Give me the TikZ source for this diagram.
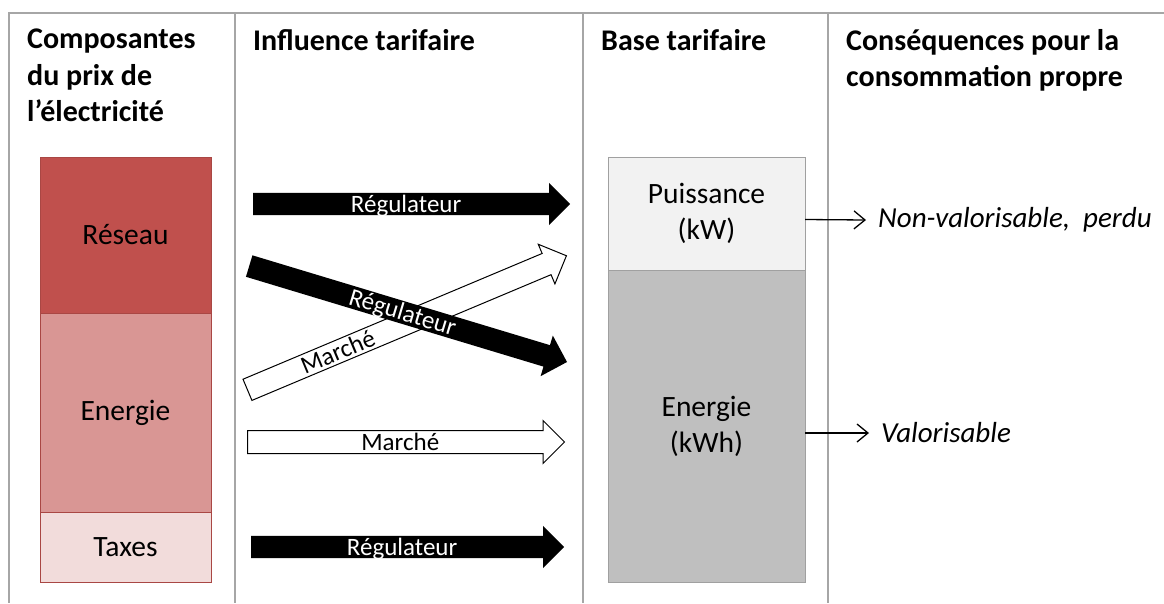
\documentclass[tikz,border=0pt]{standalone}
\usepackage{fontspec}
\setmainfont{Carlito}
\usetikzlibrary{shapes.arrows, arrows.meta, positioning}
\definecolor{framegray}{HTML}{A6A6A6}
\definecolor{reseaured}{HTML}{C0504D}
\definecolor{energiered}{HTML}{D99694}
\definecolor{taxesred}{HTML}{F2DCDB}
\definecolor{redline}{HTML}{A94744}
\definecolor{puisgray}{HTML}{F2F2F2}
\definecolor{energray}{HTML}{BFBFBF}
\definecolor{boxgray}{HTML}{A0A0A0}
\tikzset{
  frame/.style={draw=framegray, line width=1.3pt},
  header/.style={anchor=north west, inner sep=0pt, align=left,
    font=\fontsize{30}{36.3}\selectfont\bfseries},
  part/.style={draw=redline, line width=1pt, minimum width=171pt, inner sep=0pt,
    outer sep=0pt, font=\fontsize{29.5}{35}\selectfont},
  base/.style={draw=boxgray, line width=1pt, minimum width=197pt, inner sep=0pt,
    outer sep=0pt, align=center, font=\fontsize{29.5}{36}\selectfont},
  blockarrow/.style={single arrow, single arrow head extend=10pt,
    single arrow tip angle=90, single arrow head indent=0pt,
    inner xsep=0pt, inner ysep=0pt, text height=19pt, text depth=3pt,
    anchor=tail, font=\fontsize{25}{30}\selectfont},
  regul/.style={blockarrow, fill=black, text=white},
  marche/.style={blockarrow, draw=black, fill=white, line width=1pt},
  conseq/.style={anchor=west, inner sep=0pt, font=\fontsize{29}{35}\selectfont\itshape},
  conn/.style={line width=1.3pt, -{Straight Barb[length=11pt, width=18pt, line width=1.3pt]}}
}

\begin{document}
\begin{tikzpicture}[x=1pt, y=-1pt]
  \useasboundingbox (0,0) rectangle (1164,603);
  % cadre
  \draw[frame] (8,13) -- (1164,13);
  \foreach \xcol in {9, 235, 583, 828}
    \draw[frame] (\xcol,13) -- (\xcol,603);

  % titres
  \node[header] (h1) at (27,29) {Composantes\\du prix de\\l’électricité};
  \node[header] (h2) at (253,29) {Influence tarifaire};
  \node[header] (h3) at (601,29) {Base tarifaire};
  \node[header] (h4) at (846,29) {Conséquences pour la\\consommation propre};

  % composantes
  \node[part, fill=reseaured, minimum height=156pt, anchor=north west] (reseau) at (40,157) {Réseau};
  \node[part, fill=energiered, minimum height=199pt, below=0pt of reseau] (energie) {Energie};
  \node[part, fill=taxesred, minimum height=70pt, below=0pt of energie] (taxes) {Taxes};

  % base tarifaire
  \node[base, fill=puisgray, minimum height=113pt, anchor=north west] (puis) at (608,157) {Puissance\\(kW)};
  \node[base, fill=energray, minimum height=312pt, below=0pt of puis] (kwh) {Energie\\(kWh)};

  % influences
  \node[regul, minimum height=317pt] (r1) at (253,204) {Régulateur};
  \node[marche, minimum height=346pt, rotate=22.8] (m1) at (247,390) {};
  \node[regul, minimum height=332pt, rotate=-16.8] (r2) at (249,266) {Régulateur};
  \node[marche, minimum height=317pt] (m2) at (247,442) {Marché};
  \node[regul, minimum height=313pt] (r3) at (251,547) {Régulateur};
  \node[rotate=22.8, inner sep=0pt, text height=19pt, text depth=3pt,
    font=\fontsize{25}{30}\selectfont] (m1lab) at (338,352) {Marché};

  % conséquences
  \node[conseq] (nonval) at (878,220) {Non-valorisable,\ \ perdu};
  \node[conseq] (val) at (881,433) {Valorisable};
  \draw[conn] ([yshift=-6pt]puis.east) -- ([xshift=-12pt]nonval.west);
  \draw[conn] ([yshift=-7pt]kwh.east) -- ([xshift=-12pt]val.west);
\end{tikzpicture}
\end{document}
